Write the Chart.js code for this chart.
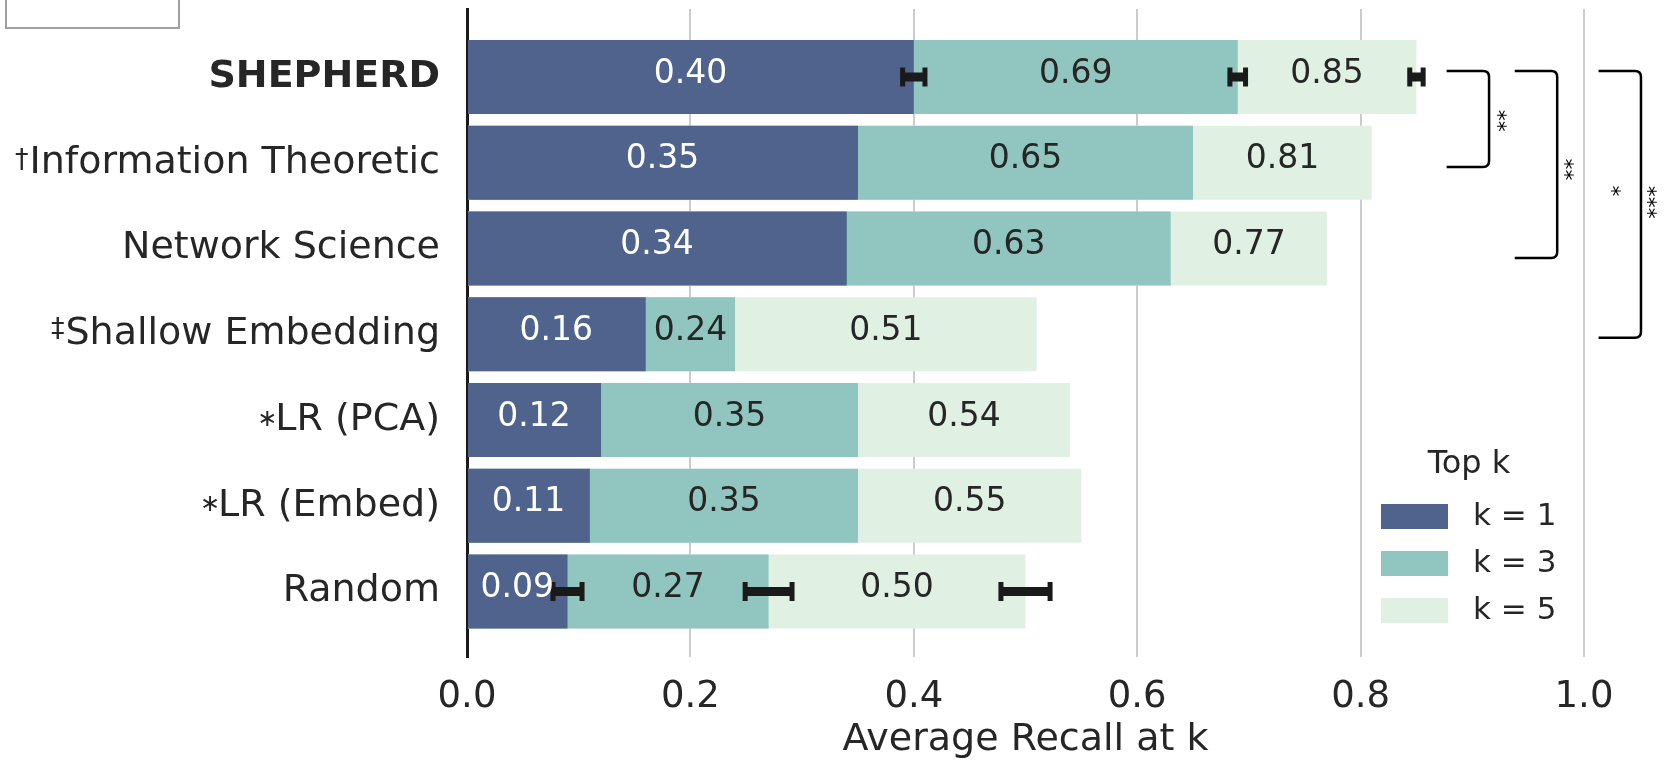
<!DOCTYPE html>
<html>
<head>
<meta charset="utf-8">
<script src="https://cdn.jsdelivr.net/npm/chart.js@4"></script>
<style>
  html, body { margin: 0; padding: 0; background: #fff; }
  #wrap { width: 1664px; height: 761px; position: relative; }
</style>
</head>
<body>
<div id="wrap"><canvas id="recallChart"></canvas></div>
<script>
"use strict";
const FONT = "'DejaVu Sans', sans-serif";
const TEXT_DARK = "#262626";
const ERR_COLOR = "#1a1a1a";

const methods = [
  "SHEPHERD",
  "Information Theoretic",
  "Network Science",
  "Shallow Embedding",
  "LR (PCA)",
  "LR (Embed)",
  "Random",
];
// footnote marks printed in front of some method names
const methodMarks = ["", "†", "", "‡", "∗", "∗", ""];

const topK = ["k = 1", "k = 3", "k = 5"];
const legendTitle = "Top k";
const kColors = ["#50638d", "#91c5c0", "#e0f1e4"];
const kTextColors = ["#ffffff", TEXT_DARK, TEXT_DARK];

const recallK1 = [0.40, 0.35, 0.34, 0.16, 0.12, 0.11, 0.09];
const recallK3 = [0.69, 0.65, 0.63, 0.24, 0.35, 0.35, 0.27];
const recallK5 = [0.85, 0.81, 0.77, 0.51, 0.54, 0.55, 0.50];

// half widths of the error bars (only SHEPHERD and Random have them)
const errK1 = [0.010, null, null, null, null, null, 0.013];
const errK3 = [0.007, null, null, null, null, null, 0.021];
const errK5 = [0.006, null, null, null, null, null, 0.022];

const xTicks = [0.0, 0.2, 0.4, 0.6, 0.8, 1.0];
const xTitle = "Average Recall at k";

// significance brackets on the right, top/bottom in row units
const brackets = [
  { top: -0.07, bottom: 1.05, x0: 0.877, x1: 0.915, stars: "**", starX: 0.931, starY: 0.51 },
  { top: -0.07, bottom: 2.11, x0: 0.938, x1: 0.976, stars: "**", starX: 0.991, starY: 1.08 },
  { top: -0.07, bottom: 3.04, x0: 1.013, x1: 1.051, stars: "*", starX: 1.033, starY: 1.33 },
];
const looseStars = [{ text: "***", x: 1.066, y: 1.46 }];

const series = [recallK1, recallK3, recallK5];
const errors = [errK1, errK3, errK5];

const markStyle = {
  "†": { size: 27, dy: -2, dx: 0 },
  "‡": { size: 27, dy: -4, dx: 0 },
  "∗": { size: 24, dy: -0.5, dx: 3 },
};

function tickFont(index) {
  return {
    family: FONT,
    size: 38,
    weight: index === 0 ? "bold" : "normal",
  };
}

const errorBarsAndLabels = {
  id: "errorBarsAndLabels",
  afterDatasetsDraw(chart) {
    const ctx = chart.ctx;
    const xs = chart.scales.x;
    const ys = chart.scales.y;
    ctx.save();
    // error bars
    ctx.strokeStyle = ERR_COLOR;
    errors.forEach((errs, k) => {
      errs.forEach((e, i) => {
        if (e === null) return;
        const v = series[k][i];
        const y = ys.getPixelForValue(i);
        const a = xs.getPixelForValue(v - e);
        const b = xs.getPixelForValue(v + e);
        ctx.lineWidth = 9;
        ctx.beginPath();
        ctx.moveTo(a, y);
        ctx.lineTo(b, y);
        ctx.stroke();
        ctx.lineWidth = 5;
        ctx.beginPath();
        ctx.moveTo(a, y - 9.5);
        ctx.lineTo(a, y + 9.5);
        ctx.moveTo(b, y - 9.5);
        ctx.lineTo(b, y + 9.5);
        ctx.stroke();
      });
    });
    // value labels centred in the visible part of each bar
    ctx.font = "33px " + FONT;
    ctx.textAlign = "center";
    ctx.textBaseline = "middle";
    series.forEach((vals, k) => {
      ctx.fillStyle = kTextColors[k];
      vals.forEach((v, i) => {
        const start = k === 0 ? 0 : series[k - 1][i];
        const x = xs.getPixelForValue((start + v) / 2);
        const y = ys.getPixelForValue(i) - 3;
        ctx.fillText(v.toFixed(2), x, y);
      });
    });
    ctx.restore();
  },
};

const extras = {
  id: "extras",
  afterDraw(chart) {
    const ctx = chart.ctx;
    const xs = chart.scales.x;
    const ys = chart.scales.y;
    ctx.save();

    // footnote marks before the method names
    const labelRight = ys.right - ys.options.ticks.padding;
    methodMarks.forEach((m, i) => {
      if (!m) return;
      const f = tickFont(i);
      ctx.font = `${f.weight} ${f.size}px ${FONT}`;
      const w = ctx.measureText(methods[i]).width;
      const st = markStyle[m];
      ctx.font = `${st.size}px ${FONT}`;
      ctx.fillStyle = TEXT_DARK;
      ctx.textAlign = "right";
      ctx.textBaseline = "middle";
      ctx.fillText(m, labelRight - w - 1 + st.dx, ys.getPixelForValue(i) + st.dy);
    });

    // significance brackets
    ctx.strokeStyle = "#000000";
    ctx.lineWidth = 2.5;
    const r = 6;
    brackets.forEach((br) => {
      const x0 = xs.getPixelForValue(br.x0);
      const x1 = xs.getPixelForValue(br.x1);
      const yt = ys.getPixelForValue(br.top);
      const yb = ys.getPixelForValue(br.bottom);
      ctx.beginPath();
      ctx.moveTo(x0, yt);
      ctx.lineTo(x1 - r, yt);
      ctx.quadraticCurveTo(x1, yt, x1, yt + r);
      ctx.lineTo(x1, yb - r);
      ctx.quadraticCurveTo(x1, yb, x1 - r, yb);
      ctx.lineTo(x0, yb);
      ctx.stroke();
    });
    const drawStars = (text, xv, yv) => {
      ctx.save();
      ctx.translate(xs.getPixelForValue(xv), ys.getPixelForValue(yv));
      ctx.rotate(-Math.PI / 2);
      ctx.font = "22px " + FONT;
      ctx.fillStyle = "#000000";
      ctx.textAlign = "center";
      ctx.textBaseline = "middle";
      ctx.fillText(text, 0, 0);
      ctx.restore();
    };
    brackets.forEach((br) => drawStars(br.stars, br.starX, br.starY));
    looseStars.forEach((s) => drawStars(s.text, s.x, s.y));

    // legend
    ctx.fillStyle = TEXT_DARK;
    ctx.textAlign = "center";
    ctx.textBaseline = "middle";
    ctx.font = "32px " + FONT;
    ctx.fillText(legendTitle, 1469, 465);
    chart.data.datasets.forEach((ds, k) => {
      const cy = 516.5 + k * 47;
      ctx.fillStyle = ds.backgroundColor;
      ctx.fillRect(1381, cy - 12.5, 67, 25);
      ctx.fillStyle = TEXT_DARK;
      ctx.textAlign = "left";
      ctx.font = "31px " + FONT;
      ctx.fillText(ds.label, 1473, cy);
    });

    // frame left over from the neighbouring panel
    ctx.strokeStyle = "#a0a0a0";
    ctx.lineWidth = 2;
    ctx.strokeRect(6, -10, 173, 38);

    ctx.restore();
  },
};

const ctx = document.getElementById("recallChart").getContext("2d");
const recallChart = new Chart(ctx, {
  type: "bar",
  data: {
    datasets: topK.map((label, k) => ({
      label: label,
      data: series[k].map((v, i) => ({ x: v, y: i })),
      backgroundColor: kColors[k],
      borderWidth: 0,
      grouped: false,
      categoryPercentage: 1,
      barPercentage: 0.863,
    })),
  },
  options: {
    indexAxis: "y",
    responsive: true,
    maintainAspectRatio: false,
    animation: false,
    layout: { padding: { top: 9, right: 80, left: 0, bottom: 0 } },
    scales: {
      x: {
        type: "linear",
        min: 0,
        max: 1,
        afterBuildTicks: (scale) => {
          scale.ticks = xTicks.map((v) => ({ value: v }));
        },
        afterFit: (scale) => {
          scale.height = 104;
        },
        ticks: {
          font: { family: FONT, size: 37 },
          color: TEXT_DARK,
          padding: 18,
          callback: (value) => Number(value).toFixed(1),
        },
        grid: {
          color: (c) => (c.tick && c.tick.value === 0 ? "rgba(0,0,0,0)" : "#cccccc"),
          lineWidth: 2,
          drawTicks: false,
        },
        border: { display: false },
        title: {
          display: true,
          text: xTitle,
          color: TEXT_DARK,
          font: { family: FONT, size: 38, lineHeight: 1.1 },
          padding: { top: 0, bottom: 0 },
        },
      },
      y: {
        type: "linear",
        reverse: true,
        offset: false,
        min: -0.793,
        max: 6.764,
        afterBuildTicks: (scale) => {
          scale.ticks = methods.map((_, i) => ({ value: i }));
        },
        afterFit: (scale) => {
          scale.width = 467;
          scale.paddingTop = 0;
          scale.paddingBottom = 0;
        },
        ticks: {
          autoSkip: false,
          padding: 27,
          color: TEXT_DARK,
          font: (c) => tickFont(c.index),
          callback: (value) => methods[value],
        },
        grid: { display: false, drawTicks: false, offset: false },
        border: { display: true, color: "#1a1a1a", width: 3 },
      },
    },
    plugins: {
      legend: { display: false },
      tooltip: { enabled: false },
    },
  },
  plugins: [errorBarsAndLabels, extras],
});
</script>
</body>
</html>
